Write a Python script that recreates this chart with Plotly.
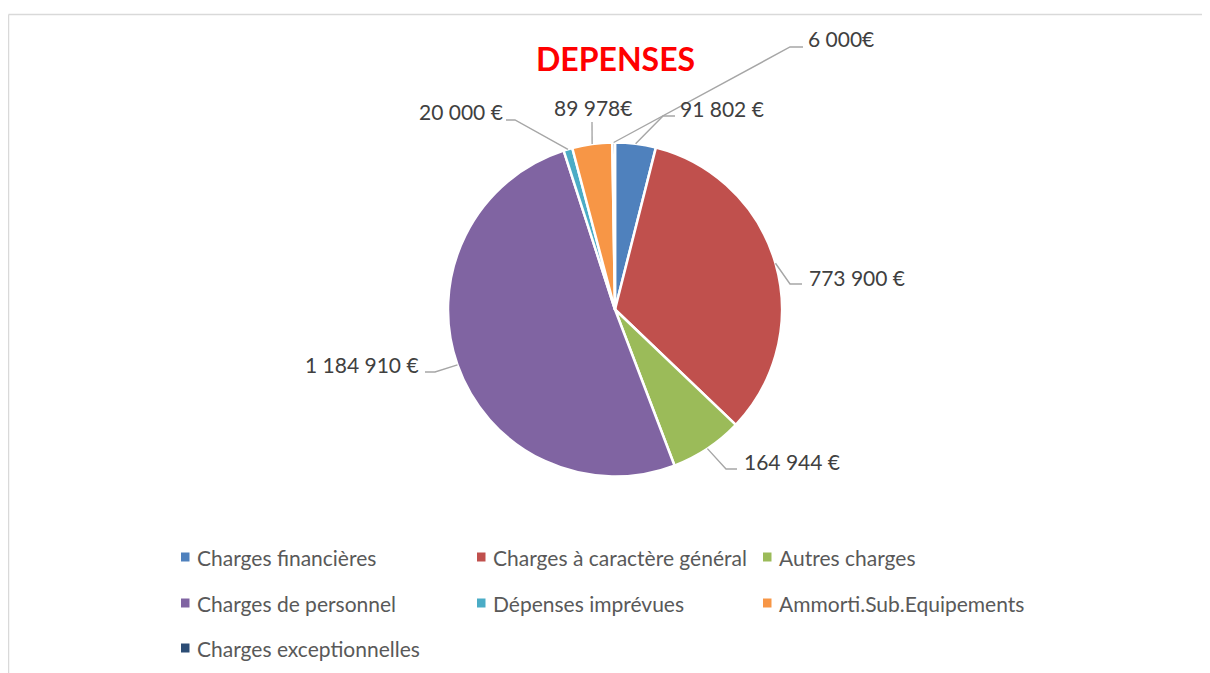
import math
import plotly.graph_objects as go

OFF = 8  # page body margin offset
W, H = 1210 - OFF, 673 - OFF

categories = ["Charges financières", "Charges à caractère général", "Autres charges",
              "Charges de personnel", "Dépenses imprévues", "Ammorti.Sub.Equipements",
              "Charges exceptionnelles"]
values = [91802, 773900, 164944, 1184910, 20000, 89978, 6000]
value_labels = ["91 802 €", "773 900 €", "164 944 €", "1 184 910 €", "20 000 €", "89 978€", "6 000€"]
colors = ["#4F81BD", "#C0504D", "#9BBB59", "#8064A2", "#4BACC6", "#F79646", "#2C4D75"]

# layout (screen pixels)
CX, CY, R = 615, 309.5, 167
label_layout = [
    dict(tx=678, ty=108, xa="left", elbow=(663, 116), end=(675, 116)),
    dict(tx=807, ty=277, xa="left", elbow=(790, 284), end=(802, 284)),
    dict(tx=742, ty=461, xa="left", elbow=(726, 469), end=(737, 469)),
    dict(tx=421, ty=364, xa="right", elbow=(435, 372), end=(425, 372)),
    dict(tx=505, ty=112, xa="right", elbow=(515, 120), end=(506, 120)),
    dict(tx=593, ty=107, xa="center", elbow=(592, 122), end=(592, 122)),
    dict(tx=806, ty=39, xa="left", elbow=(790, 47), end=(803, 47)),
]
legend_cols = [181, 477, 763]
legend_rows = [557, 603, 648]


def px(x):
    return (x - OFF) / W


def py(y):
    return 1 - (y - OFF) / H


fig = go.Figure()
fig.add_trace(go.Pie(
    labels=categories, values=values, sort=False, direction="clockwise", rotation=0,
    marker=dict(colors=colors, line=dict(color="white", width=2.5)),
    textinfo="none", showlegend=False, hoverinfo="label+value",
    domain=dict(x=[px(CX - R), px(CX + R)], y=[py(CY + R), py(CY - R)]),
))

total = sum(values)
shapes = []
annotations = []
cum = 0
for i, v in enumerate(values):
    mid = (cum + v / 2) / total * 2 * math.pi
    cum += v
    sx = CX + R * math.sin(mid)
    sy = CY - R * math.cos(mid)
    L = label_layout[i]
    ex, ey = L["elbow"]
    nx, ny = L["end"]
    path = f"M {px(sx)} {py(sy)} L {px(ex)} {py(ey)} L {px(nx)} {py(ny)}"
    shapes.append(dict(type="path", xref="paper", yref="paper", path=path,
                       line=dict(color="#A6A6A6", width=1.4)))
    annotations.append(dict(x=px(L["tx"]), y=py(L["ty"]), xref="paper", yref="paper",
                            text=value_labels[i], showarrow=False, xanchor=L["xa"],
                            yanchor="middle", font=dict(family="Lato", size=21, color="#404040")))

# manual legend
for i, cat in enumerate(categories):
    col = i % 3
    row = i // 3
    lx = legend_cols[col]
    ly = legend_rows[row]
    shapes.append(dict(type="rect", xref="paper", yref="paper",
                       x0=px(lx), x1=px(lx + 8.5), y0=py(ly + 4.5), y1=py(ly - 4.5),
                       fillcolor=colors[i], line=dict(width=0)))
    annotations.append(dict(x=px(lx + 14), y=py(ly), xref="paper", yref="paper", text=cat,
                            showarrow=False, xanchor="left", yanchor="middle",
                            font=dict(family="Lato", size=21, color="#595959")))

# title
annotations.append(dict(x=px(615), y=py(58), xref="paper", yref="paper",
                        text="<b>DEPENSES</b>", showarrow=False, xanchor="center",
                        yanchor="middle", font=dict(family="Lato", size=32, color="#FF0000")))

# chart border (top and left edges visible)
shapes.append(dict(type="line", xref="paper", yref="paper", x0=px(8.5), x1=1.0,
                   y0=py(14.5), y1=py(14.5), line=dict(color="#D9D9D9", width=1.5),
                   layer="below"))
shapes.append(dict(type="line", xref="paper", yref="paper", x0=px(8.5), x1=px(8.5),
                   y0=py(14.5), y1=0, line=dict(color="#D9D9D9", width=1.5),
                   layer="below"))

fig.update_layout(width=W, height=H, margin=dict(l=0, r=0, t=0, b=0),
                  paper_bgcolor="white", plot_bgcolor="white",
                  shapes=shapes, annotations=annotations, showlegend=False)

fig.write_html("out.html")
